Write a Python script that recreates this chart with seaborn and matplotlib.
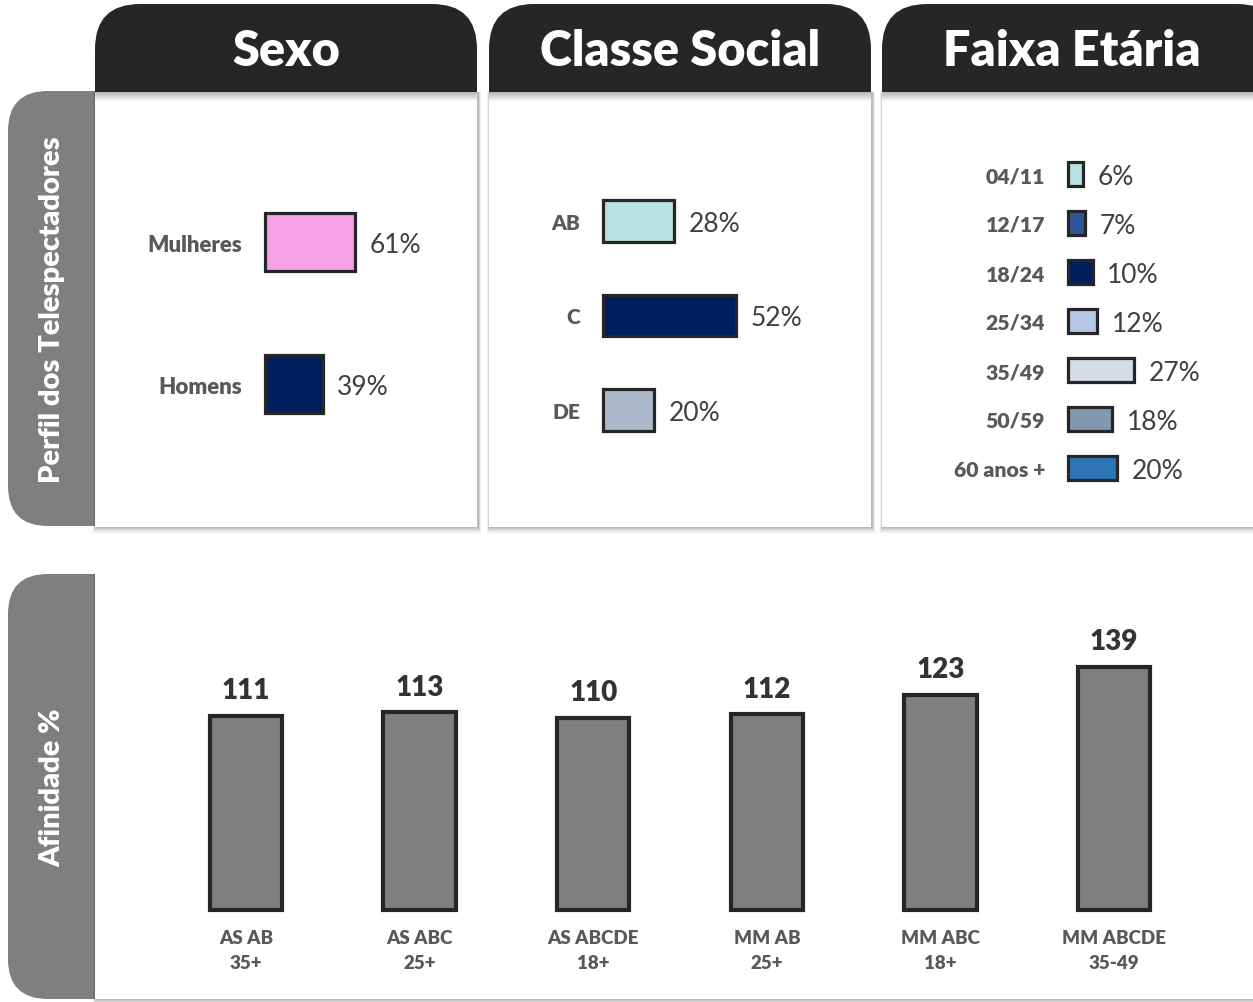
import matplotlib.pyplot as plt
import seaborn as sns
import pandas as pd
from matplotlib.patches import FancyBboxPatch, Rectangle

# data
sexo_cats = ["Mulheres", "Homens"]
sexo_vals = [61, 39]
sexo_colors = ["#F7A1EA", "#001F5F"]

classe_cats = ["AB", "C", "DE"]
classe_vals = [28, 52, 20]
classe_colors = ["#B9E1E3", "#001F5F", "#ACB9CA"]

faixa_cats = ["04/11", "12/17", "18/24", "25/34", "35/49", "50/59", "60 anos +"]
faixa_vals = [6, 7, 10, 12, 27, 18, 20]
faixa_colors = ["#B9E1E3", "#2F5597", "#001F5F", "#B4C7E7", "#D6DCE5", "#8497B0", "#2E75B6"]

afin_cats = ["AS AB\n35+", "AS ABC\n25+", "AS ABCDE\n18+", "MM AB\n25+", "MM ABC\n18+", "MM ABCDE\n35-49"]
afin_vals = [111, 113, 110, 112, 123, 139]

headers = ["Sexo", "Classe Social", "Faixa Etária"]

sns.set_style("white")
plt.rcParams["font.family"] = ["Lato", "DejaVu Sans"]

W, H = 1253, 1003
EDGE = "#262626"
HEAVY = 800
fig = plt.figure(figsize=(W / 100, H / 100), dpi=100)
fig.patch.set_facecolor("white")

# background layer in pixel coords
bg = fig.add_axes([0, 0, 1, 1])
bg.set_xlim(0, W)
bg.set_ylim(H, 0)
bg.axis("off")


def shadow(x, y, w, h):
    for k in range(1, 6):
        bg.add_patch(Rectangle((x - k * 0.6 + 1, y), w + k * 1.2, h + k * 1.1,
                               color="black", alpha=0.06, lw=0, zorder=2))


def panel(x, y, w, h):
    shadow(x, y, w, h)
    bg.add_patch(Rectangle((x, y), w, h, color="white", lw=0, zorder=3))


# side tabs
bg.add_patch(FancyBboxPatch((8, 92), 150, 435, boxstyle="round,pad=0,rounding_size=40",
                            fc="#7F7F7F", ec="none", zorder=1))
bg.add_patch(FancyBboxPatch((8, 575), 150, 425, boxstyle="round,pad=0,rounding_size=40",
                            fc="#7F7F7F", ec="none", zorder=1))

# header tabs + panels
tabs = [(95, 382), (489, 382), (882, 400)]
for (x, w), title in zip(tabs, headers):
    bg.add_patch(FancyBboxPatch((x, 5), w, 140, boxstyle="round,pad=0,rounding_size=45",
                                fc="#262626", ec="none", zorder=1))
    panel(x, 93, w, 435)
    for i in range(9):
        bg.add_patch(Rectangle((x, 93 + i), w, 1, color="black",
                               alpha=0.28 * (1 - i / 9), lw=0, zorder=4))
    bg.text(x + 190 if x + w > W else x + w / 2, 51, title, color="white",
            fontsize=35, fontweight=HEAVY, ha="center", va="center", zorder=5)

panel(95, 575, 1200, 425)

bg.text(52, 310, "Perfil dos Telespectadores", rotation=90, color="white",
        fontsize=21, fontweight=HEAVY, ha="center", va="center", zorder=5)
bg.text(52, 788, "Afinidade %", rotation=90, color="white",
        fontsize=21, fontweight=HEAVY, ha="center", va="center", zorder=5)


def px_axes(x0, y0, x1, y1):
    ax = fig.add_axes([x0 / W, 1 - y1 / H, (x1 - x0) / W, (y1 - y0) / H])
    ax.set_facecolor("none")
    return ax


def hbar_panel(cats, vals, colors, x0, x1, ytop, ybot, px_per, bar_h, lsize):
    ax = px_axes(x0, ytop, x1, ybot)
    df = pd.DataFrame({"cat": cats, "val": vals})
    sns.barplot(data=df, x="val", y="cat", hue="cat", palette=colors, legend=False,
                width=bar_h, edgecolor=EDGE, linewidth=2.3, saturation=1, ax=ax)
    ax.set_xlim(0, (x1 - x0) / px_per)
    ax.set_ylim(len(cats) - 0.5, -0.5)
    for p in ax.patches:
        p.set_clip_on(False)
    for c in ax.containers:
        for t in ax.bar_label(c, fmt="%d%%", padding=10.5, fontsize=19, color="#404040"):
            t.set_va("center_baseline")
    ax.set_xlabel("")
    ax.set_ylabel("")
    ax.set_xticks([])
    ax.tick_params(axis="y", length=0, pad=16.5, labelsize=lsize, labelcolor="#595959")
    for lbl in ax.get_yticklabels():
        lbl.set_fontweight(HEAVY)
    sns.despine(ax=ax, left=True, bottom=True)
    return ax


hbar_panel(sexo_cats, sexo_vals, sexo_colors, 265, 470, 172, 456, 1.48, 0.415, 16)
hbar_panel(classe_cats, classe_vals, classe_colors, 603, 865, 174.75, 458.25, 2.55, 0.434, 15)
hbar_panel(faixa_cats, faixa_vals, faixa_colors, 1068, 1250, 150.5, 493.5, 2.45, 0.49, 15.3)

# afinidade
ax = px_axes(159, 600, 1201, 911)
df = pd.DataFrame({"cat": afin_cats, "val": afin_vals})
sns.barplot(data=df, x="cat", y="val", color="#7F7F7F", width=0.415,
            edgecolor=EDGE, linewidth=3, saturation=1, ax=ax)
ax.set_ylim(0, 311 / 1.75)
ax.set_xlim(-0.5, len(afin_cats) - 0.5)
for p in ax.patches:
    p.set_clip_on(False)
for c in ax.containers:
    ax.bar_label(c, padding=9, fontsize=20, fontweight=HEAVY, color="#333333")
ax.set_xlabel("")
ax.set_ylabel("")
ax.set_yticks([])
ax.tick_params(axis="x", length=0, pad=14, labelsize=13.5, labelcolor="#595959")
for lbl in ax.get_xticklabels():
    lbl.set_fontweight(HEAVY)
    lbl.set_linespacing(1.55)
sns.despine(ax=ax, left=True, bottom=True)

fig.savefig("out.png", dpi=100, facecolor="white")
